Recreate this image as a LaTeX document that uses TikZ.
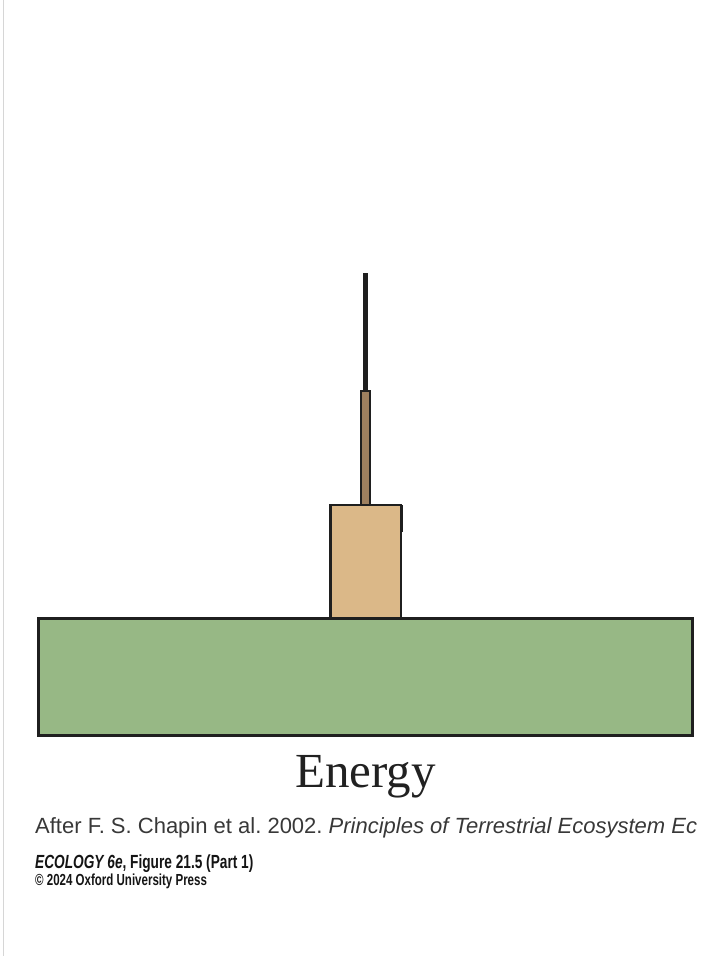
\documentclass[tikz,border=0pt]{standalone}
\usepackage{fontspec}
\setmainfont{Liberation Serif}
\setsansfont{Liberation Sans}
\newfontfamily\condfont{Liberation Sans}[FakeStretch=0.72]
\usetikzlibrary{positioning}
\definecolor{grassgreen}{HTML}{97B885}
\definecolor{herbtan}{HTML}{DBB888}
\definecolor{carnbrown}{HTML}{9E805F}
\definecolor{edgegray}{HTML}{D6D6D6}
\frenchspacing
\tikzset{
    layer/.style={
        rectangle,
        draw=black!88,
        line width=2.5pt,
        inner sep=0pt,
        outer sep=0pt,
    },
    producer/.style={
        layer,
        fill=grassgreen,
        line width=3pt,
        minimum width=654pt,
        minimum height=117pt,
    },
    herbivore/.style={
        layer,
        fill=herbtan,
        minimum width=70.5pt,
        minimum height=113pt,
    },
    carnivore/.style={
        layer,
        fill=carnbrown,
        line width=2pt,
        minimum width=9pt,
        minimum height=114pt,
    },
    topcarn/.style={
        rectangle,
        fill=black!88,
        inner sep=0pt,
        outer sep=0pt,
        minimum width=5pt,
        minimum height=118pt,
    },
    title/.style={
        inner sep=0pt,
        text=black!87,
        font=\fontsize{49}{49}\selectfont,
    },
    source/.style={
        inner sep=0pt,
        text=black!78,
        font=\sffamily\fontsize{22}{22}\selectfont,
    },
    credit/.style={
        inner sep=0pt,
        text=black!92,
        font=\condfont\bfseries\fontsize{19}{19}\selectfont,
    },
}

\begin{document}
\begin{tikzpicture}[x=1pt,y=-1pt]

    \useasboundingbox (0,0) rectangle (712,956);
    \draw[edgegray, line width=1.5pt] (3.5,0) -- (3.5,956);

    % Nodes and position definitions
    \node [producer] (P) at (365.5,676.5) {};
    \node [herbivore] (H) [above=0pt of P] {};
    \node [carnivore] (C) [above=0pt of H] {};
    \node [topcarn] (T) [above=0pt of C] {};
    \draw [black!88, line width=1.5pt] ([xshift=1.5pt]H.north east) -- ++(0,27);

    \node [title] (energy) [below=52pt of P, anchor=base] {Energy};

    \node [source, anchor=base west] (src) at (35,833)
        {After F. S. Chapin et al. 2002. \textit{Principles of Terrestrial Ecosystem Ec}};
    \node [credit] (fig) [below=35pt of src.base west, anchor=base west]
        {\textit{ECOLOGY 6e}, Figure 21.5 (Part 1)};
    \node [credit, font=\condfont\bfseries\fontsize{16}{16}\selectfont] (copy)
        [below=17pt of fig.base west, anchor=base west]
        {© 2024 Oxford University Press};
\end{tikzpicture}
\end{document}
